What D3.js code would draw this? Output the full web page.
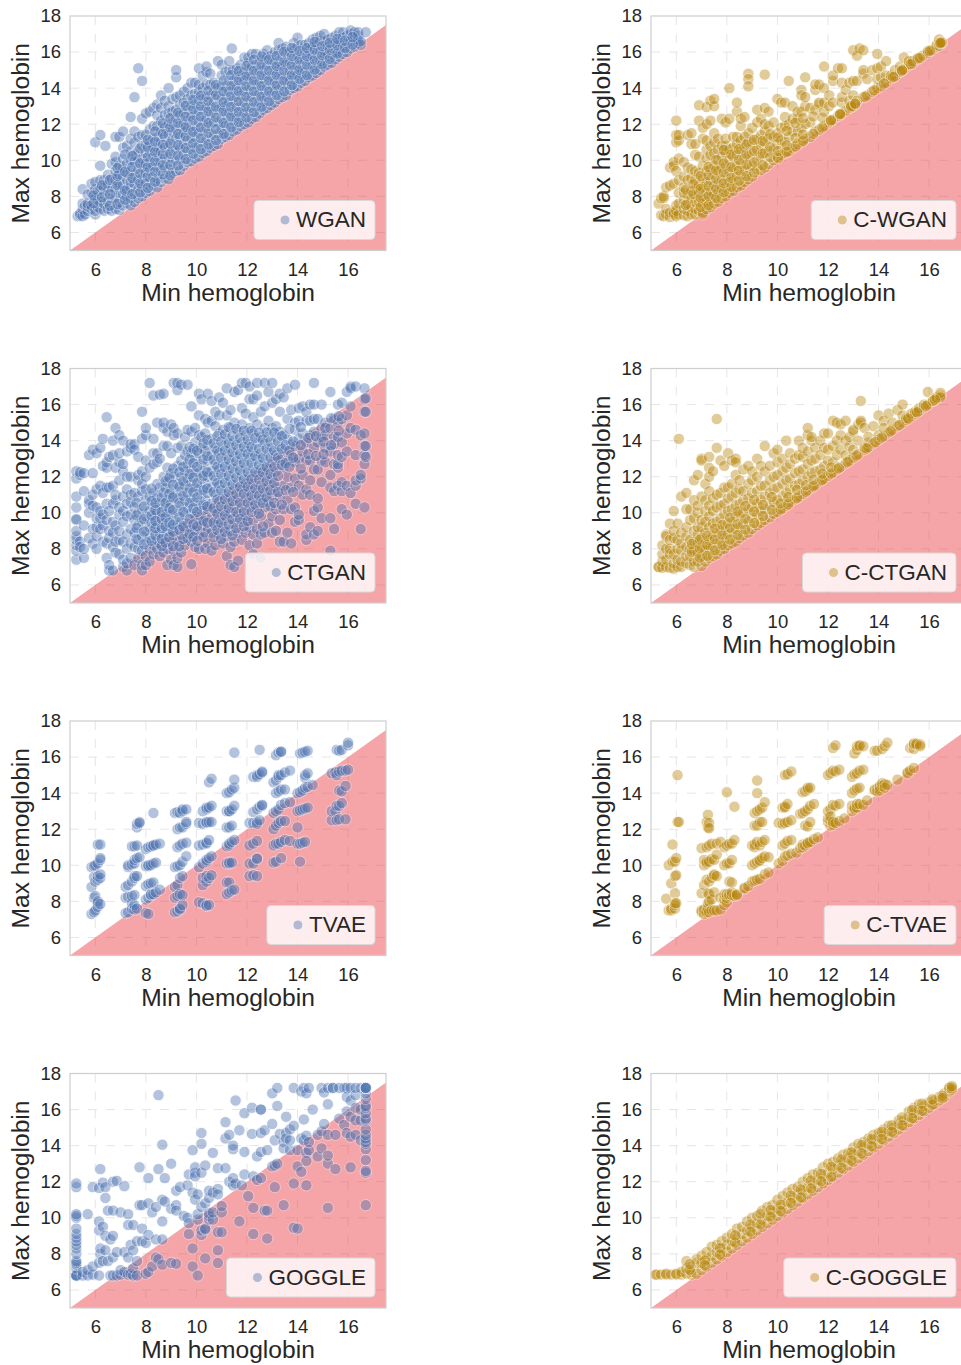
<!DOCTYPE html>
<html>
<head>
<meta charset="utf-8">
<script src="https://cdn.jsdelivr.net/npm/d3@7"></script>
<style>
  body { margin: 0; background: #fff; overflow: hidden; }
  text { font-family: "Liberation Sans", Arial, sans-serif; fill: #262626; }
</style>
</head>
<body>
<svg id="chart" width="961" height="1365"></svg>
<script>
// each row is [min hemoglobin, [max hemoglobin values read at that min]]
const wgan = [
  [5.3,[6.9]],[5.4,[6.95,7.05]],[5.5,[6.9,7.3,7.6,8.4]],[5.6,[7.0,7.5]],[5.7,[7.2,7.45,7.6,8.1]],[5.85,[7.3,7.5,8.2,8.7]],
  [6.0,[7.0,7.2,7.9,8.4,8.8,11.0]],[6.1,[7.4,7.8,8.3]],[6.2,[7.3,7.7,8.4,8.9,9.7,11.4]],[6.35,[7.2,7.6,8.1,8.5,8.9]],[6.4,[10.8]],
  [6.5,[7.3,7.7,8.3,8.7,9.2]],[6.65,[7.2,7.9,8.5,9.0,9.8]],[6.8,[7.3,7.9,8.4,8.9,9.4,9.9,10.2,11.3]],[6.95,[7.25,7.7,8.2,8.7,9.2,9.7,11.3]],
  [7.1,[7.5,8.1,8.6,9.1,9.6,10.1,10.7,11.6]],[7.25,[7.6,8.0,8.4,8.9,9.3,9.8,10.8]],[7.4,[7.5,7.9,8.5,8.8,9.4,10.0,10.5,11.2,12.4]],
  [7.55,[7.7,8.2,8.7,9.2,9.9,10.3,11.0,11.6,13.5]],[7.7,[7.9,8.4,8.9,9.5,10.0,10.5,11.3,15.1]],[7.85,[8.0,8.5,9.0,9.6,10.1,10.8,11.4,12.3,14.4]],
  [8.0,[8.2,8.7,9.3,9.8,10.4,10.9,11.4,12.6]],[8.15,[8.3,8.8,9.4,9.9,10.5,11.0,11.7,12.7]],[8.3,[8.6,9.1,9.7,10.2,10.7,11.2,11.9,12.9]],
  [8.45,[8.5,9.0,9.6,10.2,10.7,11.3,11.9,12.5,13.1]],[8.6,[8.8,9.4,9.9,10.5,11.0,11.6,12.2,12.9,13.6]],[8.75,[9.0,9.6,10.1,10.7,11.3,11.8,12.5,13.3]],
  [8.9,[8.95,9.5,10.2,10.8,11.4,12.0,12.6,13.0,14.0]],[9.05,[9.3,9.9,10.5,11.1,11.6,12.1,12.7,13.4]],[9.2,[9.4,10.0,10.6,11.2,11.7,12.3,12.8,13.5,14.6,15.0]],
  [9.35,[9.45,10.1,10.7,11.3,11.9,12.5,13.1,13.6]],[9.5,[9.7,10.3,10.9,11.5,12.0,12.6,13.2,13.8]],[9.65,[9.9,10.5,11.1,11.7,12.2,12.8,13.4,14.0]],
  [9.8,[9.95,10.6,11.2,11.7,12.4,13.0,13.6,14.3]],[9.95,[10.1,10.7,11.3,11.9,12.5,13.1,13.7,14.3]],[10.1,[10.2,10.8,11.5,12.1,12.7,13.3,13.8,14.2,15.1]],
  [10.25,[10.4,11.0,11.6,12.2,12.8,13.4,14.0,14.7]],[10.4,[10.5,11.1,11.8,12.3,12.9,13.5,14.2,14.9,15.2]],[10.55,[10.7,11.3,11.9,12.5,13.0,13.6,14.2,14.8]],
  [10.7,[10.8,11.4,12.1,12.6,13.2,13.8,14.3]],[10.85,[10.9,11.5,12.1,12.8,13.5,14.0,15.5]],[11.0,[11.2,11.7,12.3,12.9,13.4,14.1,14.7,15.3]],
  [11.15,[11.3,11.9,12.5,13.0,13.6,14.1,14.9]],[11.3,[11.4,12.0,12.6,13.2,13.8,14.4,15.0,15.5]],[11.4,[16.2]],[11.45,[11.6,12.2,12.7,13.3,13.9,14.4,15.0]],
  [11.6,[11.7,12.3,12.9,13.5,14.0,14.6,15.1]],[11.75,[11.9,12.4,13.0,13.6,14.2,14.7,15.3]],[11.9,[12.0,12.6,13.2,13.8,14.4,14.9,15.7]],
  [12.05,[12.1,12.7,13.3,13.9,14.5,15.0,15.4,15.7]],[12.2,[12.3,12.9,13.5,14.1,14.6,15.2,15.9]],[12.35,[12.4,13.0,13.6,14.2,14.8,15.3,15.9]],
  [12.5,[12.6,13.2,13.7,14.3,14.9,15.4]],[12.65,[12.8,13.3,13.9,14.5,15.0,15.6,15.9]],[12.8,[12.9,13.5,14.0,14.6,15.2,15.7,16.1]],
  [12.95,[13.05,13.6,14.2,14.7,15.3,15.8]],[13.1,[13.2,13.8,14.3,14.9,15.4,16.0]],[13.25,[13.4,13.9,14.5,15.0,15.5,16.1,16.5]],
  [13.4,[13.5,14.1,14.6,15.2,15.7,16.2]],[13.55,[13.6,14.2,14.7,15.3,15.9,16.3]],[13.7,[13.9,14.4,14.9,15.4,16.0]],
  [13.85,[14.0,14.5,15.0,15.6,16.1,16.5]],[14.0,[14.1,14.7,15.2,15.7,16.3,16.8]],[14.15,[14.3,14.8,15.3,15.9,16.4]],
  [14.3,[14.4,14.9,15.5,16.0,16.4]],[14.45,[14.6,15.1,15.6,16.1,16.5]],[14.6,[14.7,15.2,15.8,16.3,16.7]],[14.75,[14.85,15.4,15.9,16.4,16.8]],
  [14.9,[15.0,15.5,16.0,16.6,16.9]],[15.05,[15.2,15.7,16.1,16.6,17.0]],[15.2,[15.3,15.8,16.3,16.7]],[15.35,[15.4,15.9,16.4,16.8]],
  [15.5,[15.6,16.0,16.5,16.9]],[15.65,[15.75,16.2,16.6,17.1]],[15.8,[15.9,16.3,16.8,17.1]],[15.95,[16.0,16.5,16.9]],[16.1,[16.2,16.6,17.0,17.2]],
  [16.25,[16.3,16.7,17.1]],[16.4,[16.5,16.7,16.9,17.1]],[16.5,[16.4,16.6]],[16.7,[17.1]]
]
// second reading of the dense part of the WGAN cloud
const wganMore = [
  [5.93,[7.62,8.05]],[6.27,[7.95,8.62]],[6.58,[7.48,8.12,8.91]],[6.88,[7.58,8.63,9.14,9.57]],[7.18,[7.82,8.33,9.37,10.32]],[7.47,[8.12,9.02,9.63,10.24]],
  [7.78,[8.23,8.72,9.27,9.83,10.66]],[8.08,[8.47,9.09,9.62,10.18,10.72,11.14]],[8.37,[8.82,9.37,9.94,10.47,11.03,11.6]],[8.68,[9.22,9.73,10.33,10.87,11.47,12.05]],
  [8.97,[9.17,9.74,10.37,10.92,11.82,12.33]],[9.28,[9.72,10.27,10.83,11.47,12.08,12.64]],[9.58,[10.07,10.68,11.33,11.85,12.42,13.02]],[9.88,[10.37,10.93,11.58,12.23,12.82,13.35]],
  [10.18,[10.62,11.23,11.82,12.42,13.02,13.58]],[10.48,[10.88,11.53,12.07,12.72,13.28,13.86]],[10.78,[11.12,11.73,12.38,12.97,13.63,14.18]],[11.08,[11.46,12.07,12.72,13.23,13.82,14.42]],
  [11.38,[11.83,12.42,12.96,13.57,14.12,14.72]],[11.68,[12.12,12.68,13.28,13.83,14.43,14.95]],[11.98,[12.38,12.93,13.53,14.13,14.68,15.23]],[12.28,[12.68,13.23,13.83,14.42,14.97,15.58]],
  [12.58,[12.97,13.53,14.12,14.72,15.27,15.76]],[12.88,[13.28,13.82,14.43,14.97,15.58]],[13.18,[13.62,14.17,14.73,15.23,15.78]],[13.48,[13.83,14.42,14.97,15.47,16.02]],
  [13.78,[14.17,14.72,15.27,15.78,16.23]],[14.08,[14.52,15.02,15.58,16.07]],[14.38,[14.73,15.28,15.77,16.23]],[14.68,[15.03,15.57,16.12,16.56]],[14.98,[15.32,15.83,16.33]],
  [15.28,[15.62,16.13,16.52]],[15.58,[15.92,16.37,16.73]],[15.88,[16.22,16.63]],[16.18,[16.42,16.83]]
]

const cWgan = [
  [5.3,[7.6]],[5.4,[6.95,7.9]],[5.5,[6.9,7.9,8.0]],[5.6,[7.0,7.3,8.5]],[5.75,[6.85,7.1,8.6,9.6]],[5.9,[7.0,7.1,8.7,9.9,9.7]],
  [6.0,[6.9,7.2,7.5,9.4,11.0,11.4,12.2]],[6.1,[7.0,7.6,8.2,8.9,10.1,11.1,11.4]],[6.3,[6.95,7.3,7.8,8.2,8.5,9.1,9.9]],[6.45,[6.9,7.2,7.6,8.1,8.9,9.6,11.4]],
  [6.6,[7.0,7.4,7.9,8.3,9.0,9.5,11.5,10.9]],[6.75,[7.0,7.3,7.7,8.4,8.9,9.4,10.3,10.9]],[6.9,[7.2,7.7,8.2,8.6,9.3,10.2,13.05,12.2]],
  [7.05,[7.0,7.1,7.6,8.0,8.5,9.0,9.7,11.8,11.2]],[7.2,[7.3,7.7,8.2,8.8,9.4,10.1,10.6,11.1,12.0,12.95]],[7.35,[7.4,7.9,8.3,8.9,9.5,10.3,10.8,12.2,13.3]],
  [7.5,[7.6,8.1,8.6,9.2,9.7,10.4,11.0,11.5,13.0,13.4]],[7.65,[7.7,8.2,8.7,9.4,10.0,10.6,11.2]],[7.8,[7.9,8.4,8.9,9.6,10.2,10.8,12.3]],
  [7.95,[8.0,8.5,9.1,9.7,10.4,10.8,11.2,12.1]],[8.1,[8.2,8.8,9.4,10.0,10.6,12.3,14.0]],[8.25,[8.3,8.9,9.5,10.2,10.7,11.3]],
  [8.4,[8.5,9.1,9.7,10.3,10.9,11.3,12.7,13.2]],[8.55,[8.6,9.2,9.8,10.5,11.1,11.9,12.3]],[8.7,[8.8,9.4,10.1,10.7,11.3,12.4]],
  [8.85,[8.95,9.6,10.2,11.0,11.5,14.8,14.5,14.1]],[9.0,[9.1,9.7,10.4,11.0,11.8]],[9.2,[9.5,10.0,10.6,11.2,12.1,12.8]],[9.35,[9.45,10.2,10.8,11.4,12.3]],
  [9.5,[9.6,10.4,11.0,11.6,12.0,12.9,14.75]],[9.65,[9.8,10.5,11.2,11.9,12.7]],[9.85,[10.0,10.6,11.3,12.1]],[10.0,[10.2,10.9,11.5,13.4]],
  [10.15,[10.3,11.1,11.8,13.2]],[10.3,[10.4,11.0,11.9,12.4,13.2]],[10.45,[10.5,11.3,12.0,14.4]],[10.6,[10.7,11.6,12.3,13.0]],[10.8,[10.9,11.6,12.3,12.7]],
  [10.95,[11.0,11.8,12.7,13.9,13.6]],[11.1,[11.2,12.0,13.0,13.5,14.6]],[11.3,[11.3,12.1,12.9]],[11.5,[11.6,12.8,13.9,14.2]],[11.65,[11.7,13.1,13.2,14.2]],
  [11.85,[11.9,12.7,13.2,14.0,15.2]],[12.05,[12.1,13.0,13.6]],[12.2,[12.25,13.2,14.4,14.7]],[12.4,[12.45,15.1]],[12.55,[12.6,13.2,13.5,14.3,15.1]],
  [12.7,[12.75,13.9]],[12.85,[12.9,13.3,14.3]],[13.0,[13.0,13.6,14.4,16.1]],[13.15,[13.3,14.4,15.8]],[13.25,[16.2]],[13.4,[13.5,14.8,15.0,16.1]],
  [13.55,[13.6,14.5]],[13.75,[13.8,15.0]],[13.95,[14.0,14.5,15.1,15.9]],[14.1,[14.1,14.6,15.2]],[14.3,[14.3,14.7,15.5]],[14.5,[14.55,14.7]],
  [14.65,[14.65,15.0]],[14.85,[14.9,15.2]],[15.0,[15.05,15.7]],[15.2,[15.3,15.5]],[15.35,[15.4,15.5]],[15.55,[15.6,15.65]],[15.75,[15.8]],
  [15.95,[15.95,16.05]],[16.1,[16.1]],[16.3,[16.3,16.4]],[16.4,[16.35,16.5,16.7]],[16.5,[16.5,16.55]]
]
const cWganMore = [
  [6.38,[7.52,8.37]],[6.68,[8.13,8.67]],[6.97,[7.42,7.93,8.43,9.12]],[7.28,[7.52,8.03,8.57,9.17,9.63]],[7.58,[7.92,8.43,8.97,9.47,10.02]],[7.88,[8.23,8.73,9.33,9.83,10.57]],
  [8.18,[8.53,9.03,9.62,10.32]],[8.48,[8.87,9.43,10.02,10.62]],[8.78,[9.12,9.77,10.33,10.87]],[9.08,[9.33,9.88,10.52,11.13]],[9.42,[9.72,10.37,11.07]],[9.72,[10.18,10.72,11.43]],
  [10.03,[10.12,10.52,11.27]],[10.37,[10.47,10.82,11.63]],[10.72,[10.77,11.23,12.08]],[11.02,[11.08,11.43,12.33]],[11.42,[11.47,12.43]],[11.78,[11.82,12.37]],[12.12,[12.17,12.23]],
  [12.48,[12.53,12.57]],[12.92,[12.95,13.02]],[13.08,[13.12,13.15]],[13.48,[13.53]],[13.83,[13.88]],[14.22,[14.25]],[14.58,[14.62]],[14.93,[14.96,14.99]],[15.28,[15.33]],[15.63,[15.68]],[16.03,[16.07]],[16.45,[16.48,16.52]]
]

const ctgan = [
  [5.25,[7.4,7.9,8.2,8.5,8.7,9.0,9.6,9.65,10.3,10.9,11.9,12.3]],[5.4,[8.4,8.1,12.1,12.25]],[5.55,[7.5,8.0,9.3,11.2,12.2]],[5.75,[8.6,10.5,10.7,13.2,10.0]],
  [5.9,[8.3,9.1,10.4,11.0,12.2,13.5]],[6.05,[8.0,8.7,9.2,9.7,10.3,11.3,13.3]],[6.2,[9.1,9.7,10.1,11.5,13.6]],[6.3,[8.4,9.3,9.9,11.1,12.6,14.1]],[6.45,[7.5,8.3,9.6,10.5,11.4,12.5,12.8,15.3]],
  [6.55,[6.8,7.1,8.6,9.0,10.1,11.4,13.1]],[6.7,[6.8,8.1,8.9,9.5,10.5,11.5,13.2,14.0]],[6.8,[7.8,8.4,9.3,10.7,11.0,12.5,14.7]],[6.95,[7.7,8.5,9.0,9.9,10.3,11.8,12.8,13.3,14.3]],
  [7.1,[7.0,7.4,8.4,9.5,10.1,10.9,12.3,12.7,14.0]],[7.25,[6.8,7.2,8.0,8.8,9.8,10.5,11.3,12.0,13.4]],[7.4,[7.5,8.3,9.1,9.9,10.6,11.0,12.0,13.6,13.8]],
  [7.55,[7.1,8.1,8.9,9.6,10.3,11.1,13.8,13.5]],[7.7,[7.5,8.0,8.5,9.3,10.0,10.9,11.8,12.1,13.1]],[7.85,[7.1,6.8,7.9,8.7,9.5,10.2,11.2,11.6,12.3,14.1,15.6]],
  [8.0,[7.1,7.6,8.4,9.0,9.8,10.7,11.3,12.0,12.9,14.3,14.7]],[8.15,[7.3,8.0,8.6,9.2,10.1,10.9,12.5,17.2]],[8.3,[7.7,8.2,9.0,9.7,10.3,11.1,12.7,13.3,14.1,16.5]],
  [8.45,[8.0,8.5,9.3,10.0,10.9,11.6,13.3,15.0,12.8]],[8.55,[7.6,8.3,8.9,9.8,10.5,11.4,13.0,16.55]],[8.7,[7.8,8.7,9.4,10.3,11.1,12.0,13.7,14.7,16.6,15.0]],
  [8.85,[7.1,8.0,9.0,10.0,10.7,11.7,12.5,13.7,14.5]],[9.0,[7.4,8.4,9.1,9.9,10.5,11.3,12.2,13.3,14.9]],[9.1,[7.1,7.9,8.7,9.6,11.0,12.0,14.3,14.7,17.2]],
  [9.25,[7.0,7.5,8.4,9.3,10.1,10.8,11.6,12.6,13.6,14.4,16.8,17.2]],[9.4,[7.8,8.8,9.5,10.4,11.2,12.0,12.9,13.7,17.1]],[9.55,[8.2,9.0,9.9,10.7,11.5,12.3,13.2,14.2]],
  [9.65,[8.6,9.4,10.3,11.1,11.9,12.7,13.4,14.6,17.1]],[9.8,[7.15,8.4,9.1,10.0,10.8,11.7,12.4,13.3,14.5,15.9]],[9.95,[8.1,9.0,9.8,10.6,11.4,12.2,13.0,13.9,14.7]],
  [10.1,[8.0,8.8,9.6,10.4,11.3,12.2,13.3,14.3,15.4,16.6]],[10.2,[9.3,10.1,11.0,11.9,12.7,13.6,14.2,16.3]],[10.35,[8.0,8.9,9.8,10.7,11.6,12.4,13.4,14.4,15.2]],
  [10.45,[8.3,9.1,10.2,11.1,12.0,12.9,13.7,15.0,16.6]],[10.6,[7.9,8.9,9.7,10.5,11.4,12.3,13.2,14.1,15.1,16.2]],[10.75,[8.2,9.3,10.1,11.0,11.8,12.7,13.6,14.8,15.6]],
  [10.9,[8.8,9.6,10.6,11.5,12.4,13.3,14.4,15.4,16.4]],[11.05,[8.3,9.2,10.1,11.0,11.9,12.8,13.7,14.6,16.1]],[11.2,[7.6,8.7,9.7,10.5,11.4,12.3,13.2,14.1,15.4,16.9]],
  [11.35,[7.1,8.1,9.0,10.0,10.9,11.8,12.7,13.6,14.7,15.7]],[11.5,[7.0,8.4,9.4,10.4,11.3,12.2,13.1,14.0,15.0,16.7]],[11.65,[7.35,8.9,9.9,10.8,11.7,12.6,13.5,14.5,16.8]],
  [11.8,[8.5,9.5,10.3,11.3,12.1,13.0,13.9,14.9,15.8,17.2]],[11.95,[8.9,9.8,10.8,11.6,12.5,13.4,14.3,15.5,17.2]],[12.1,[8.2,9.2,10.3,11.2,12.0,13.0,13.8,14.7,16.3,17.0]],
  [12.25,[7.7,8.8,9.6,10.7,11.6,12.5,13.4,14.4,15.3,16.3]],[12.4,[8.3,9.1,10.2,11.1,12.1,13.0,13.9,14.9,16.5,17.2]],[12.55,[7.5,8.8,9.8,10.7,11.5,12.4,13.3,14.2,15.6]],
  [12.7,[8.9,10.3,11.1,12.0,12.8,13.8,14.7,15.9,17.2]],[12.85,[9.4,10.6,11.5,12.4,13.3,14.2,15.1,16.7]],[13.0,[8.9,9.8,11.0,11.9,12.8,13.6,14.7,16.1,17.2]],
  [13.15,[9.0,10.2,11.4,12.3,13.2,14.2,14.8,16.3]],[13.3,[8.4,9.6,10.9,12.9,13.7,14.5,15.6,16.6]],[13.45,[8.4,10.2,11.5,12.5,13.4,14.3,16.4]],[13.6,[8.9,10.7,12.0,12.9,14.1,15.2,16.9]],
  [13.75,[8.3,10.2,11.4,13.2,13.8,15.7]],[13.9,[9.5,10.3,11.9,12.8,13.7,14.6,15.0,17.1]],[14.05,[9.6,9.9,11.5,13.0,14.1,15.1,15.8]],[14.2,[11.0,12.1,13.4,14.4,15.9]],
  [14.35,[8.5,8.8,11.3,12.9,13.9,15.1,15.6]],[14.5,[9.2,11.0,11.8,12.9,14.3,15.1,16.0]],[14.65,[8.8,10.1,12.4,13.6,14.5,15.2,16.0,17.2]],[14.8,[9.0,10.3,10.8,12.4,13.9,15.2]],
  [14.95,[9.7,11.7,12.9,14.2,14.7,16.0]],[15.1,[12.8,13.6,14.3,15.0,14.7]],[15.3,[9.7,7.9,11.4,12.1,13.4,14.7,16.7]],[15.45,[9.1,11.2,12.7,13.8,14.2,15.2]],[15.6,[11.5,12.5,12.7,13.2,14.2,15.0,16.0]],
  [15.75,[10.2,11.2,11.7,13.1,13.9,15.2,16.1]],[15.95,[9.9,11.5,13.4,14.4,15.4,16.7]],[16.1,[11.1,14.7,15.9,17.0,16.9]],[16.3,[10.5,11.5,11.8,13.2,14.6,17.0]],[16.5,[9.1,11.9,12.1,14.3]],
  [16.65,[10.3,12.7,13.2,13.7,14.4,15.6,16.3,16.9]],[16.7,[13.1,13.7,15.6,16.35]]
]
// second reading of the dense middle of the CTGAN cloud
const ctganMore = [
  [7.63,[8.55,9.15,9.85,10.55]],[7.93,[8.25,8.95,9.65,10.35]],[8.23,[8.45,9.45,9.85,10.65,11.35]],[8.38,[8.75,9.15,9.55,10.15,10.55]],[8.63,[8.15,8.55,9.15,9.65,10.05,10.85]],
  [8.78,[8.35,9.25,9.75,10.55,11.35,11.75]],[8.93,[8.65,9.45,10.25,11.05,11.95]],[9.08,[8.15,8.95,9.35,10.15,10.85,11.55,12.45]],[9.33,[8.15,9.05,9.75,10.55,11.45,12.25]],
  [9.48,[8.55,9.25,10.05,10.95,11.75,12.55]],[9.73,[8.85,9.65,10.55,11.35,12.15,12.95,13.65]],[9.88,[8.65,9.35,10.25,11.15,11.95,12.75,13.55]],[10.03,[8.45,9.25,10.05,10.85,11.65,12.55,13.45]],
  [10.28,[8.65,9.55,10.45,11.25,12.05,12.95,13.85]],[10.43,[9.45,10.35,11.35,12.25,13.15,14.05]],[10.68,[8.65,9.45,10.25,11.15,12.05,12.95,13.85]],[10.83,[9.05,9.95,10.75,11.65,12.55,13.45,14.25]],
  [10.98,[8.55,9.45,10.35,11.25,12.15,13.05,13.95]],[11.13,[8.95,9.85,10.75,11.65,12.55,13.45,14.35]],[11.28,[9.35,10.25,11.15,12.05,12.95,13.85,14.75]],[11.43,[8.75,9.65,10.65,11.55,12.45,13.35,14.25]],
  [11.58,[9.15,10.05,11.05,11.95,12.85,13.75,14.65]],[11.73,[9.65,10.55,11.45,12.35,13.25,14.15]],[11.88,[9.25,10.05,11.05,11.85,12.75,13.65,14.55]],[12.03,[9.55,10.55,11.45,12.25,13.25,14.05]],
  [12.18,[10.05,10.95,11.85,12.75,13.65,14.55]],[12.33,[10.45,11.35,12.25,13.15,14.15]],[12.48,[9.95,10.95,11.85,12.65,13.55,14.45]],[12.63,[9.25,10.55,11.35,12.25,13.05,14.05]],
  [12.78,[10.85,11.75,12.55,13.55,14.45]],[12.93,[10.35,11.25,12.15,13.05,13.95]],[13.08,[10.55,11.65,12.55,13.45,14.45]],[13.23,[11.15,12.05,13.05,13.95]],[13.38,[10.45,12.65,13.55,14.25]],
  [13.53,[11.25,12.75,13.75]],[13.68,[12.55,13.45,14.65]],[13.83,[11.15,13.05,13.95]],[14.13,[12.45,13.75,14.75]],[14.43,[13.25,14.15]],[14.73,[13.15,14.25]],[15.03,[13.25,13.95]],[15.33,[13.75,15.25]],[15.63,[14.55,15.35]]
]

const cCtgan = [
  [5.3,[7.0,7.0]],[5.45,[6.95,7.3,7.7,8.2]],[5.6,[7.0,7.4,8.0,8.8,8.7]],[5.75,[6.95,7.7,8.0,8.5,9.4]],[5.9,[6.9,7.2,7.7,8.6,9.0,10.1]],
  [6.05,[7.0,7.4,8.0,8.5,9.4]],[6.1,[14.1]],[6.2,[7.0,7.3,7.9,8.3,8.9,10.9]],[6.4,[7.2,7.6,8.1,8.7,9.2,10.2,11.1]],[6.55,[7.1,7.6,8.0,8.5,9.6,10.2]],
  [6.7,[7.0,7.3,7.9,8.4,9.0,9.7,10.7,11.8]],[6.85,[7.3,7.8,8.3,8.8,9.2,10.0,10.4,12.1]],[7.0,[7.05,7.6,8.1,8.6,9.2,9.6,10.9,13.0,12.9]],
  [7.15,[7.3,7.9,8.3,8.9,9.5,10.1,10.7,11.6]],[7.3,[7.5,8.0,8.5,9.2,9.8,10.4,11.2,12.5,13.1,12.0]],[7.45,[7.6,8.1,8.7,9.4,10.1,10.8,12.3]],
  [7.6,[7.7,8.3,8.9,9.5,10.3,11.0,13.6,15.2]],[7.75,[7.9,8.4,9.0,9.7,10.4,11.1,12.9]],[7.9,[8.0,8.6,9.2,9.9,10.5,11.4,12.6]],[8.05,[8.2,8.8,9.4,10.1,10.8,11.4,13.3]],
  [8.2,[8.3,8.9,9.5,10.2,10.9,11.6,12.9]],[8.35,[8.4,9.1,9.8,10.4,11.1,12.1,13.0,12.8]],[8.5,[8.6,9.2,9.9,10.5,11.3,11.8]],[8.65,[8.75,9.4,10.0,10.7,11.2,12.4]],
  [8.85,[8.9,9.5,10.2,10.8,11.6,12.6]],[9.0,[9.1,9.7,10.3,11.1,11.8,12.3]],[9.2,[9.3,9.9,10.5,11.2,12.0,13.0]],[9.35,[9.45,10.1,10.7,11.5,12.6]],
  [9.5,[9.6,10.2,10.9,11.5,12.3,13.7]],[9.7,[9.75,10.4,11.1,11.8,12.6]],[9.85,[9.95,10.6,11.3,12.0,13.3]],[10.0,[10.05,10.7,11.4,12.1,12.8,13.5]],
  [10.2,[10.25,10.9,11.6,12.3,13.0]],[10.35,[10.4,11.1,11.8,12.5,14.0]],[10.5,[10.6,11.3,11.9,12.7,13.3]],[10.7,[10.75,11.5,12.2,13.0]],[10.85,[10.9,11.6,12.3,13.2,14.0]],
  [11.0,[11.05,11.8,12.4,13.1,13.6]],[11.2,[11.25,12.0,12.7,13.4,14.3,14.7]],[11.35,[11.4,12.2,12.9,14.0,14.2]],[11.5,[11.55,12.3,13.0,13.6]],[11.7,[11.75,12.4,13.2,14.0]],
  [11.85,[11.9,12.6,13.6,14.4]],[12.0,[12.05,12.9,13.5,14.4]],[12.2,[12.25,12.8,13.7,15.1]],[12.35,[12.4,13.2,14.0,15.0]],[12.5,[12.55,13.5,14.3,14.9]],
  [12.7,[12.75,13.2,14.0,15.1]],[12.85,[12.9,13.7,14.2]],[13.0,[13.05,13.5,14.5,14.6]],[13.2,[13.25,14.0,14.9]],[13.3,[15.0,16.2,15.1]],[13.45,[13.5,13.6,14.7]],
  [13.6,[13.65,13.9,14.2]],[13.8,[13.85,14.8]],[14.0,[14.05,14.3,15.4]],[14.2,[14.25,15.1,14.7]],[14.4,[14.45,15.5]],[14.55,[14.6,15.0]],[14.75,[14.8,15.7]],
  [14.95,[15.0,15.4,16.0]],[15.1,[15.15,15.25]],[15.3,[15.35,15.5]],[15.45,[15.5,15.6]],[15.6,[15.65,15.8]],[15.8,[15.85,16.0]],[15.95,[16.0,16.7]],
  [16.15,[16.2,16.2]],[16.3,[16.35,16.4]],[16.45,[16.5,16.65,16.4]]
]
const cCtganMore = [
  [6.62,[7.83,8.27]],[6.93,[7.52,8.03,8.52]],[7.23,[7.62,8.22,8.72]],[7.53,[7.92,8.53,9.12]],[7.83,[8.22,8.77,9.33]],[8.13,[8.52,9.17,9.72]],[8.43,[8.77,9.37,10.07]],
  [8.73,[9.07,9.67,10.37]],[9.08,[9.43,10.07,10.72]],[9.43,[9.82,10.43]],[9.78,[10.17,10.87]],[10.13,[10.18,10.52]],[10.43,[10.47,10.87]],[10.78,[10.82,11.27]],[11.13,[11.17,11.53]],[11.43,[11.47,11.83]],
  [11.78,[11.82,12.17]],[12.13,[12.17,12.52]],[12.43,[12.47]],[12.78,[12.82]],[13.13,[13.17]],[13.53,[13.57]],[13.88,[13.92]],[14.13,[14.17]],[14.48,[14.52]],[14.83,[14.87]],[15.18,[15.22]],[15.53,[15.57]],[15.88,[15.92]],[16.23,[16.27]]
]

const tvae = [
  [5.85,[7.3,8.8,9.9]],[5.95,[7.4,8.2,9.35,9.95]],[6.0,[7.5,8.3,9.1,10.0]],[6.1,[7.9,7.7,8.0,9.2,9.4,10.1,11.15]],[6.2,[7.85,9.3,9.5,10.3,10.4,11.15]],
  [7.2,[7.35,8.2,8.8]],[7.3,[7.4,8.25,8.9,9.9,10.0]],[7.45,[7.6,7.9,8.3,9.1,10.05,11.05]],[7.55,[7.55,7.8,8.35,9.4,9.3,10.1,10.3,11.05]],[7.65,[7.6,9.4,10.4,11.1,12.1,12.3]],[7.75,[10.45,12.4,12.35]],
  [8.0,[7.35,8.1,8.85,9.95,10.9]],[8.1,[7.3,8.2,8.95,9.95,10.0,11.0]],[8.2,[8.35,8.4,9.0,10.0,11.05]],[8.3,[8.4,9.05,10.1,11.1,11.1,12.9]],[8.4,[8.5,10.15,11.15]],[8.55,[8.65,11.2]],
  [9.15,[7.4,8.2,8.8,9.9,12.9]],[9.25,[7.45,8.3,8.9,9.95,11.0,12.0,12.95]],[9.35,[7.55,7.6,8.4,9.3,10.0,11.1,12.1,12.9]],[9.45,[7.8,8.35,9.4,10.2,11.2,12.1,13.0,13.1]],[9.6,[10.5,11.25,12.3,12.4,13.1]],
  [10.1,[7.95,9.9,11.1,12.35]],[10.25,[7.9,8.9,9.3,10.1,11.15,12.3,13.0]],[10.4,[7.8,7.75,9.1,9.4,10.2,10.3,11.2,11.25,12.35,12.4,13.1,13.2]],[10.5,[7.8,9.3,10.4,11.4,12.4,13.2,14.6]],[10.6,[9.45,10.5,12.4,13.3,14.8]],
  [11.2,[8.4,9.05,10.1,11.05,12.1,13.0,14.0]],[11.3,[8.5,9.05,10.1,10.15,11.1,11.2,12.1,13.0,13.0,14.05]],[11.4,[8.6,10.15,11.3,12.2,13.1,14.2]],[11.5,[8.65,11.4,13.3,14.3,14.75,16.25]],
  [12.1,[9.4,10.1,11.1,12.35]],[12.25,[9.45,10.1,11.2,12.35,12.95,14.9]],[12.4,[9.4,10.4,10.35,11.35,12.4,12.3,13.1,15.0,14.9]],[12.5,[12.5,13.25,15.05,16.4]],[12.6,[13.3,13.35,15.2,15.15]],
  [13.05,[10.15,11.1,12.0,12.9,14.6]],[13.15,[10.2,11.2,12.2,13.0,14.0,14.7,16.1]],[13.25,[11.2,12.35,13.1,14.1,14.9,15.0,16.25]],[13.35,[10.4,11.3,12.45,13.35,14.2,15.0,16.3,16.3]],[13.5,[11.4,12.45,13.45,14.2,15.15]],[13.7,[11.35,13.5,15.25]],
  [14.0,[12.1,11.2,13.0,14.0]],[14.1,[10.2,11.2,13.05,14.05,16.2]],[14.2,[11.25,13.1,14.15,16.25]],[14.3,[11.3,13.15,14.3,14.85,15.0,16.3]],[14.4,[13.2,14.35,15.1,16.35]],[14.6,[14.45]],
  [15.35,[12.5,13.0,15.1]],[15.5,[13.0,15.15]],[15.55,[12.5,13.3,15.0,16.4]],[15.65,[12.55,13.3,14.15,15.2,16.35]],[15.75,[13.45,14.1,15.25,16.4]],[15.9,[12.55,14.4,15.25]],[16.0,[15.3,16.65,16.8]]
]

const cTvae = [
  [5.6,[8.15]],[5.7,[7.5,10.0]],[5.8,[7.5,9.0,7.6]],[5.85,[11.15,10.2]],[5.95,[7.6,7.8,8.45,9.4,10.2,7.9]],[6.0,[7.9,9.45,10.4]],[6.05,[12.4,15.0]],[6.1,[12.4]],
  [7.0,[7.4,7.5,8.45,10.95]],[7.1,[7.3,7.55,8.9,10.0,10.3]],[7.2,[7.4,9.2,10.1,10.2,11.0,12.4]],[7.25,[7.6,7.9,8.45,12.8,12.1]],[7.3,[7.4,8.0,8.4,9.1,10.2,11.1,12.35,12.05]],[7.4,[7.5,8.1,9.3,10.35,11.2]],[7.5,[7.5,8.5,9.5,9.45,10.3]],[7.6,[7.5,9.4,10.6,11.2]],
  [7.75,[7.55,8.2,11.3]],[7.9,[7.8,8.1,8.4,10.0,11.0]],[8.0,[7.95,8.2,8.4,10.1,11.1,14.05]],[8.1,[8.3,8.4,9.1,10.1,11.2]],[8.2,[8.35,8.5,9.05,10.3,11.2]],[8.3,[8.3,13.25,11.4]],[8.4,[8.4,8.35]],
  [8.7,[8.7,8.75]],[8.85,[8.85]],[9.0,[9.1,10.0,11.1]],[9.1,[9.15,10.1,11.0,11.15,12.2,12.9]],[9.2,[9.2,10.2,11.3,12.2,13.0,14.0,14.7]],[9.3,[9.25,10.3,10.25,11.1,12.4,13.1]],[9.4,[10.4,11.3,12.4,13.2]],[9.5,[9.5,10.5,11.4,13.5]],[9.65,[9.6,10.45]],
  [10.05,[10.1,12.35]],[10.2,[10.25,11.1,12.3,13.2]],[10.3,[10.5,11.2,12.35,13.2,13.25,15.0]],[10.4,[10.55,11.35,12.4,13.4,15.05]],[10.55,[10.65,11.4,12.5,15.2]],[10.75,[10.7]],
  [10.9,[10.95,12.85]],[11.0,[11.0,11.15,12.9,14.05]],[11.1,[11.1,12.2,13.0,14.1]],[11.2,[11.2,11.25,12.15,13.1,14.2,14.3]],[11.3,[11.3,12.4,13.3,14.3]],[11.45,[11.45,13.4]],[11.6,[11.55]],
  [12.0,[12.4,12.6,13.0,15.0]],[12.1,[12.2,12.5,13.1,15.1,12.7]],[12.2,[12.25,12.4,13.35,15.25,16.5]],[12.3,[12.35,13.3,15.2,16.65]],[12.45,[12.45,13.4,15.3]],[12.65,[12.6]],
  [12.95,[13.0,13.3,14.0,14.9]],[13.05,[13.1,13.2,14.15,15.05,16.2]],[13.15,[13.2,13.4,14.25,15.1,16.4,16.6]],[13.25,[13.4,14.3,15.25,16.6,16.65]],[13.4,[13.35,15.3,16.6]],[13.55,[13.6]],
  [13.85,[14.2,14.15,16.35]],[13.95,[14.25,14.1,16.35]],[14.05,[14.3,14.4,14.15]],[14.15,[14.4,14.55,16.45]],[14.25,[14.5,14.3,16.6]],[14.35,[14.45,16.8]],[14.75,[14.75]],
  [15.15,[15.15,15.1]],[15.25,[15.25,16.5]],[15.4,[15.4,16.45,16.7,16.75]],[15.5,[16.75,16.7]],[15.65,[16.7,16.6]]
]

const goggle = [
  [5.25,[6.8,6.8,6.8,6.8,7.2,7.4,7.5,7.6,8.0,8.3,8.5,8.7,8.9,9.1,9.4,10.0,10.1,10.2,11.7,11.9]],
  [5.5,[6.8,7.0]],[5.7,[6.8,7.1,10.2]],[5.9,[6.85,7.3,11.7]],[6.15,[6.8,7.5,9.3,9.8,11.65]],[6.2,[8.0,8.3,12.7]],[6.3,[7.6,9.5,11.95]],[6.4,[8.2,9.0,11.1,11.7]],[6.5,[7.6,10.4]],
  [6.6,[6.8,8.8]],[6.7,[6.8,7.8,9.0,10.4,12.0]],[6.85,[6.8,8.1,12.05]],[7.0,[6.85,7.1,10.3]],[7.15,[7.0,8.1,11.75]],[7.3,[7.8,10.2,9.6,6.85]],[7.4,[6.9,8.5]],[7.5,[6.8,7.2,8.2,9.6]],[7.65,[6.8,7.6,8.7]],
  [7.75,[10.7,12.8]],[7.85,[8.7,9.4,10.7]],[8.0,[6.9,8.6]],[8.1,[7.0,9.05,10.8,12.2]],[8.25,[7.3,10.3]],[8.4,[7.8,8.8,10.6]],[8.5,[7.7,12.7,16.8]],[8.65,[7.4,8.8,9.8,14.05,11.0]],[8.75,[10.9,12.2]],
  [9.0,[7.5,10.5,13.0]],[9.2,[7.45,10.7,10.4,11.5]],[9.35,[11.7]],[9.5,[10.1]],[9.65,[10.0,11.8]],[9.7,[9.1,9.7,12.4]],[9.85,[7.3,8.3,11.4,13.75]],[9.95,[11.0,12.5,12.8,12.3]],
  [10.05,[6.8,9.9,10.2,11.3]],[10.2,[9.05,9.3,10.6,12.5,14.1,14.7]],[10.35,[7.75,9.35,9.4,10.8,12.9]],[10.5,[9.9,10.1,10.25,11.1,11.5]],[10.65,[9.9,10.3,11.4,13.6]],[10.85,[7.5,8.2,9.2,11.6,11.3,12.75]],
  [11.0,[9.2,10.3,10.65]],[11.15,[12.75,14.4,15.3]],[11.3,[12.0,14.6]],[11.45,[11.8,12.2,13.8,14.0]],[11.55,[16.5,11.9]],[11.7,[9.8,14.85]],[11.8,[11.8]],[11.9,[12.4,13.65,15.8]],[12.05,[11.2]],
  [12.2,[14.65,16.1]],[12.25,[9.1,10.55,12.3]],[12.4,[13.4,12.1]],[12.55,[13.65,14.7,16.0,16.0,12.2]],[12.7,[10.4,14.85]],[12.8,[8.85,10.4,13.75]],[13.0,[15.2,16.9,12.85]],[13.1,[11.7,14.3,12.9]],[13.2,[13.0,16.2,17.2]],
  [13.3,[14.65]],[13.45,[10.7,14.2,13.85]],[13.55,[14.7,14.4,15.6]],[13.7,[13.75,14.3,14.9]],[13.85,[9.45,11.9,15.1,17.2]],[14.0,[9.4,13.75,12.85]],[14.15,[12.55,14.4,17.0]],[14.25,[14.3,15.45,17.2]],
  [14.35,[11.8,13.6,14.55,13.15,16.9]],[14.45,[13.75,14.2,17.2]],[14.6,[16.0]],[14.8,[13.4,14.6]],[14.95,[13.85,14.8,17.2]],[15.05,[15.2,16.95]],[15.2,[10.55,13.0,13.45,14.6,16.3,17.2]],
  [15.4,[17.2,17.2]],[15.5,[12.7,14.6]],[15.65,[15.5,17.2]],[15.85,[15.15,17.2]],[15.95,[14.7,15.9,17.2,16.7]],[16.1,[12.8,14.5,15.6,16.5,17.2]],[16.3,[14.6,15.4,16.1,16.8,17.2]],
  [16.5,[14.3,15.4,16.0,17.2]],[16.7,[10.7,12.5,12.6,13.2,13.8,14.1,14.2,14.4,14.6,14.9,15.4,15.5,15.8,16.1,16.2,16.6,16.9,17.2,17.2,17.2,17.2]]
]

const cGoggle = [
  [5.2,[6.85,6.85]],[5.4,[6.85]],[5.6,[6.85,6.9]],[5.8,[6.85]],[6.0,[6.85,6.9]],[6.2,[6.85,7.0]],[6.4,[6.9,7.2,7.6]],[6.6,[6.85,7.3,7.0]],[6.8,[6.9,7.5,7.7]],
  [7.0,[7.1,7.5,7.9]],[7.2,[7.3,7.7,8.1]],[7.4,[7.5,7.9,8.4]],[7.6,[7.7,8.1,8.5]],[7.8,[7.9,8.3,8.7]],[8.0,[8.1,8.5,8.9]],[8.2,[8.3,8.7,9.1]],[8.4,[8.5,8.9,9.4]],
  [8.6,[8.7,9.1,9.5]],[8.8,[8.9,9.3,9.8]],[9.0,[9.1,9.5,10.0]],[9.2,[9.3,9.7,10.1]],[9.4,[9.5,9.9,10.4]],[9.6,[9.7,10.1,10.6]],[9.8,[9.9,10.3,10.7]],
  [10.0,[10.1,10.5,11.0]],[10.2,[10.3,10.7,11.2]],[10.4,[10.5,10.9,11.4]],[10.6,[10.7,11.1,11.6]],[10.8,[10.9,11.3,11.7]],[11.0,[11.1,11.5,12.0]],[11.2,[11.3,11.7,12.2]],
  [11.4,[11.5,11.9,12.4]],[11.6,[11.7,12.1,12.5]],[11.8,[11.9,12.3,12.8]],[12.0,[12.1,12.5,13.0]],[12.2,[12.3,12.7,13.1]],[12.4,[12.5,12.9,13.3]],[12.6,[12.7,13.1,13.5]],
  [12.8,[12.9,13.3,13.6]],[13.0,[13.1,13.5,13.9]],[13.2,[13.3,13.7,14.1]],[13.4,[13.5,13.9,14.2]],[13.6,[13.7,14.1,14.4]],[13.8,[13.9,14.3,14.6]],[14.0,[14.1,14.5,14.7]],
  [14.2,[14.3,14.6,14.9]],[14.4,[14.5,14.8,15.1]],[14.6,[14.7,15.0]],[14.8,[14.9,15.2,15.4]],[15.0,[15.1,15.4]],[15.2,[15.3,15.6,15.9]],[15.4,[15.5,15.8,16.1]],
  [15.6,[15.7,16.0,16.3]],[15.8,[15.9,16.2]],[16.0,[16.1,16.4]],[16.2,[16.3,16.5]],[16.4,[16.5,16.7]],[16.6,[16.7,16.9]],[16.8,[17.0,17.2,17.2]],[16.9,[17.1,17.2,17.3]]
]
const cGoggleMore = [
  [6.53,[7.12,7.43]],[7.13,[7.63,7.37]],[7.73,[8.33,7.97]],[8.33,[8.63,9.03]],[8.93,[9.63,9.23]],[9.33,[10.23,9.63]],[9.73,[10.43,10.07]],[10.13,[10.73,10.37]],[10.53,[11.23,10.83]],
  [10.93,[11.57,11.13]],[11.33,[12.07,11.63]],[11.73,[12.43,12.03]],[12.13,[12.83,12.27]],[12.53,[13.23,12.77]],[12.93,[13.63,13.17]],[13.33,[14.03,13.57]],[13.73,[14.37,13.97]],
  [14.13,[14.77,14.37]],[14.53,[15.13,14.77]],[14.93,[15.57,15.13]],[15.33,[15.97,15.53]],[15.73,[16.33,15.93]],[16.13,[16.27,16.57]],[16.53,[16.77,16.63]]
]

const names = ['WGAN', 'C-WGAN', 'CTGAN', 'C-CTGAN', 'TVAE', 'C-TVAE', 'GOGGLE', 'C-GOGGLE']
const series = [
  wgan.concat(wganMore),
  cWgan.concat(cWganMore),
  ctgan.concat(ctganMore),
  cCtgan.concat(cCtganMore),
  tvae,
  cTvae,
  goggle,
  cGoggle.concat(cGoggleMore)
]
const xTicks = [6, 8, 10, 12, 14, 16]
const yTicks = [6, 8, 10, 12, 14, 16, 18]
const blue = '#4c72b0'
const gold = '#b8860b'

var pw = 316,
  ph = 234.5,
  lefts = [70, 651],
  tops = [16, 368.5, 721, 1073.5]

var x = d3.scaleLinear().domain([5, 17.5]).range([0, pw]),
  y = d3.scaleLinear().domain([5, 18]).range([ph, 0])

var svg = d3.select('#chart')

names.forEach(function(name, i) {
  var color = i % 2 ? gold : blue,
    col = i % 2,
    row = Math.floor(i / 2),
    points = series[i].flatMap(function(d) {
      return d[1].map(function(v) {
        return [d[0], v]
      })
    })

  var g = svg
    .append('g')
    .attr('transform', 'translate(' + lefts[col] + ',' + tops[row] + ')')

  // dashed grid
  g.selectAll('.vgrid')
    .data(xTicks)
    .join('line')
    .attr('x1', x)
    .attr('x2', x)
    .attr('y1', 0)
    .attr('y2', ph)
    .attr('stroke', '#e6e6e6')
    .attr('stroke-width', 1)
    .attr('stroke-dasharray', '9,9')

  g.selectAll('.hgrid')
    .data(yTicks.slice(0, -1))
    .join('line')
    .attr('x1', 0)
    .attr('x2', pw)
    .attr('y1', y)
    .attr('y2', y)
    .attr('stroke', '#e6e6e6')
    .attr('stroke-width', 1)
    .attr('stroke-dasharray', '9,9')

  // region where max < min
  g.append('path')
    .attr('d', d3.line()([[x(5), y(5)], [x(17.5), y(5)], [x(17.5), y(17.5)]]) + 'Z')
    .attr('fill', '#e8303a')
    .attr('fill-opacity', 0.44)

  g.selectAll('circle')
    .data(points)
    .join('circle')
    .attr('cx', function(d) { return x(d[0]) })
    .attr('cy', function(d) { return y(d[1]) })
    .attr('r', 5.7)
    .attr('fill', color)
    .attr('stroke', '#fff')
    .attr('stroke-width', 0.9)
    .attr('opacity', 0.42)

  // spines
  g.append('rect')
    .attr('width', pw)
    .attr('height', ph)
    .attr('fill', 'none')
    .attr('stroke', '#cfcfcf')
    .attr('stroke-width', 1.25)

  var xAxis = g
    .append('g')
    .attr('transform', 'translate(0,' + ph + ')')
    .call(d3.axisBottom(x).tickValues(xTicks).tickSize(0).tickPadding(12))
  var yAxis = g
    .append('g')
    .call(d3.axisLeft(y).tickValues(yTicks).tickSize(0).tickPadding(9))
  xAxis.select('.domain').remove()
  yAxis.select('.domain').remove()
  g.selectAll('.tick text')
    .attr('font-size', 18.5)
    .style('font-family', '"Liberation Sans", Arial, sans-serif')
    .attr('fill', '#262626')

  g.append('text')
    .attr('x', pw / 2)
    .attr('y', ph + 50)
    .attr('text-anchor', 'middle')
    .attr('font-size', 24.6)
    .text('Min hemoglobin')

  g.append('text')
    .attr('transform', 'translate(-41,' + ph / 2 + ')rotate(-90)')
    .attr('text-anchor', 'middle')
    .attr('font-size', 24.6)
    .text('Max hemoglobin')

  // legend, sized from its label
  var legend = g.append('g')
  var label = legend
    .append('text')
    .attr('font-size', 22.5)
    .text(name)
  var tw = label.node().getComputedTextLength(),
    right = pw - 11,
    lw = tw + 51,
    lh = 39
  legend
    .insert('rect', 'text')
    .attr('x', right - lw)
    .attr('y', ph - 11 - lh)
    .attr('width', lw)
    .attr('height', lh)
    .attr('rx', 4)
    .attr('fill', '#fff')
    .attr('fill-opacity', 0.8)
    .attr('stroke', '#d8d8d8')
  legend
    .insert('circle', 'text')
    .attr('cx', right - lw + 31)
    .attr('cy', ph - 11 - lh / 2)
    .attr('r', 5)
    .attr('fill', color)
    .attr('stroke', '#fff')
    .attr('stroke-width', 0.9)
    .attr('opacity', 0.42)
  label
    .attr('x', right - lw + 42)
    .attr('y', ph - 11 - lh / 2 + 7)
})
</script>
</body>
</html>
